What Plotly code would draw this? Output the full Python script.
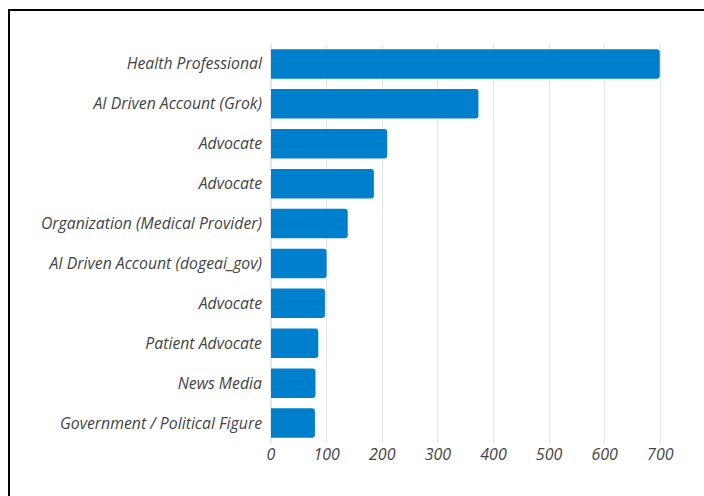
import plotly.graph_objects as go

categories = [
    "Health Professional",
    "AI Driven Account (Grok)",
    "Advocate",
    "Advocate",
    "Organization (Medical Provider)",
    "AI Driven Account (dogeai_gov)",
    "Advocate",
    "Patient Advocate",
    "News Media",
    "Government / Political Figure",
]
values = [699, 373, 209, 185, 138, 100, 97, 85, 80, 79]
x_ticks = [0, 100, 200, 300, 400, 500, 600, 700]

W, H = 704, 496
L, R, T, B = 271, 27, 44, 53
pw, ph = W - L - R, H - T - B

positions = list(range(len(categories)))

fig = go.Figure(go.Bar(
    x=values,
    y=positions,
    orientation="h",
    marker=dict(color="#0080CC", line=dict(width=0)),
    width=0.74,
))

def px_to_paper_x(px):
    return (px - L) / pw

def px_to_paper_y(py):
    return (H - B - py) / ph

fig.update_layout(
    width=W, height=H,
    margin=dict(l=L, r=R, t=T, b=B, pad=0),
    paper_bgcolor="white",
    plot_bgcolor="white",
    barcornerradius=3,
    showlegend=False,
    xaxis=dict(
        range=[0, 730],
        tickvals=x_ticks,
        showgrid=True,
        gridcolor="#e6e6e6",
        gridwidth=1,
        zeroline=True,
        zerolinecolor="#e6e6e6",
        showline=False,
        ticks="",
        tickfont=dict(family="Open Sans", size=16, color="#444444", style="italic"),
    ),
    yaxis=dict(
        tickvals=positions,
        ticktext=categories,
        range=[len(categories) - 0.5, -0.5],
        showgrid=False,
        zeroline=False,
        showline=False,
        ticks="",
        ticklabelstandoff=8,
        tickfont=dict(family="Open Sans", size=15.8, color="#444444", style="italic"),
    ),
    shapes=[dict(
        type="rect", xref="paper", yref="paper",
        x0=px_to_paper_x(9), x1=px_to_paper_x(W + 20),
        y0=px_to_paper_y(H + 20), y1=px_to_paper_y(10),
        line=dict(color="black", width=2),
        fillcolor="rgba(0,0,0,0)",
        layer="above",
    )],
)

fig.write_html("out.html")
